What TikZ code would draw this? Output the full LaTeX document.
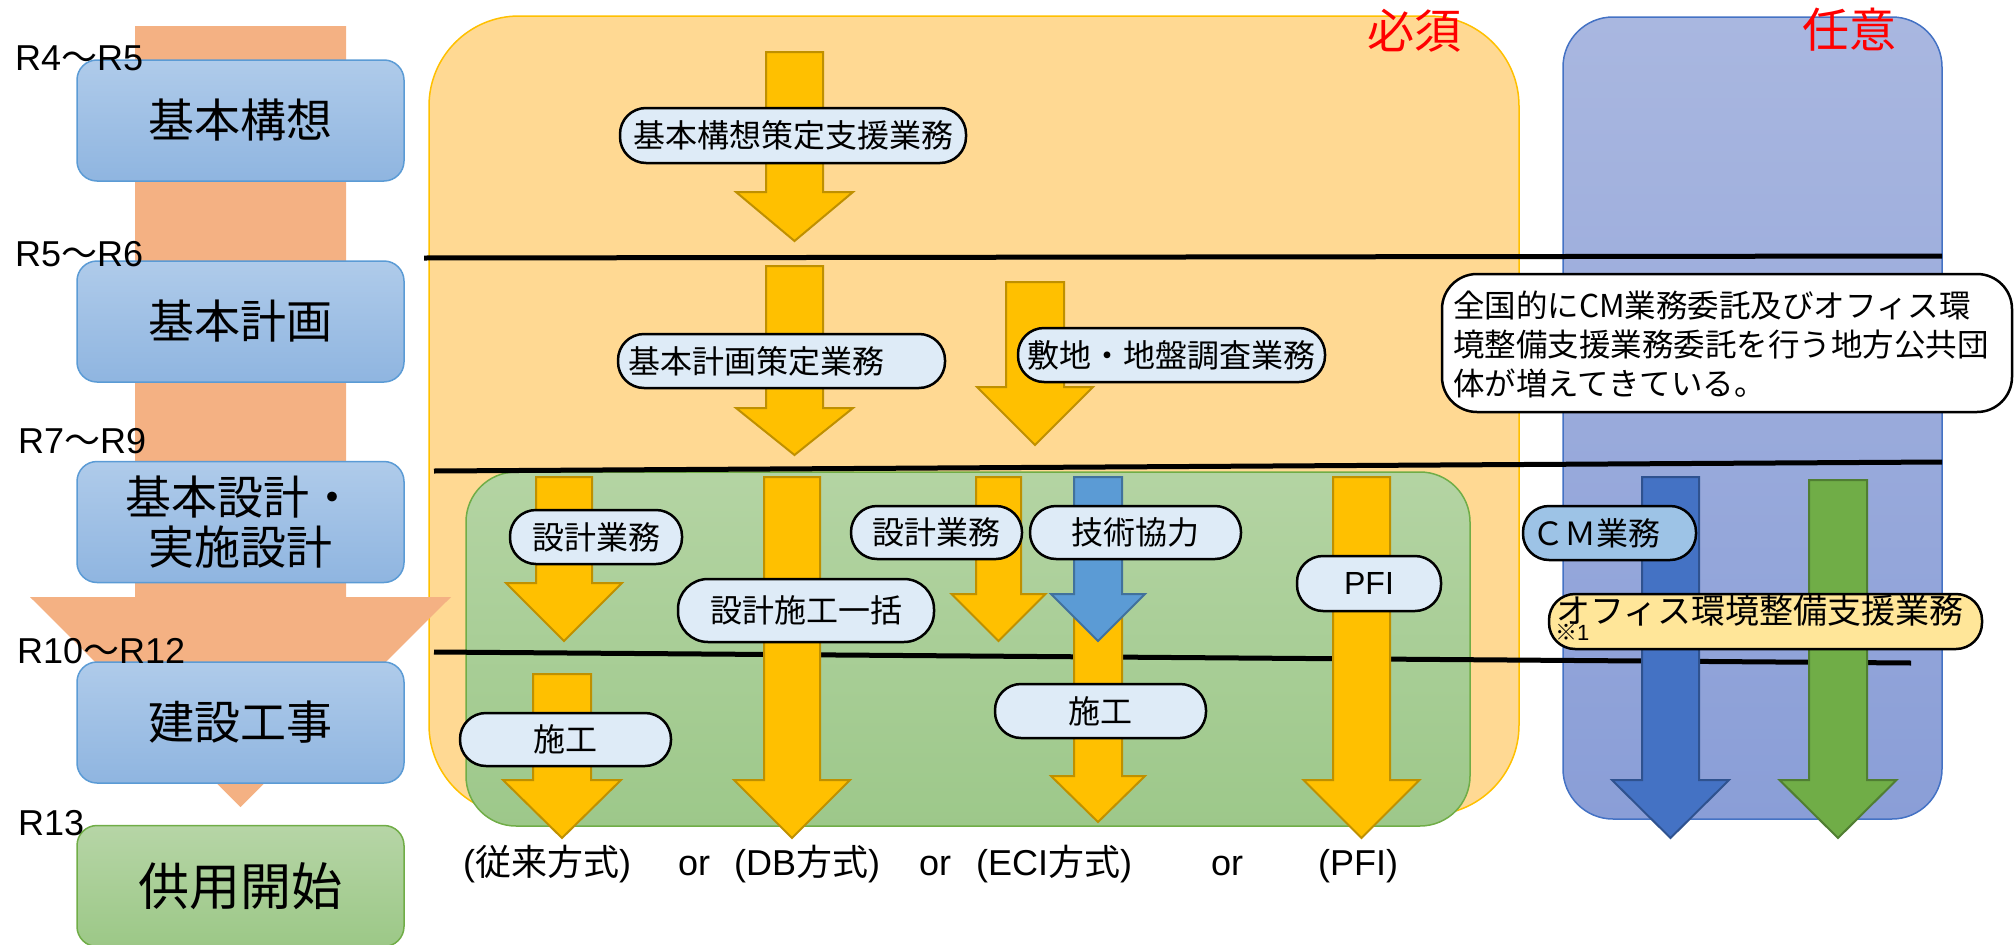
\documentclass[tikz,border=0pt]{standalone}
\usepackage{fontspec}
\setmainfont{Liberation Sans}
\newfontfamily\cjk{Noto Sans CJK JP}
\definecolor{leftorange}{HTML}{F4B183}
\definecolor{boxtop}{HTML}{AFCBEA}
\definecolor{boxbot}{HTML}{8FB5E0}
\definecolor{boxline}{HTML}{5B9BD5}
\definecolor{gboxtop}{HTML}{B6D5A6}
\definecolor{gboxbot}{HTML}{9CC887}
\definecolor{gline}{HTML}{70AD47}
\definecolor{orangebg}{HTML}{FFD993}
\definecolor{orangeline}{HTML}{FFC000}
\definecolor{greentop}{HTML}{B4D4A3}
\definecolor{greenbot}{HTML}{9DC88A}
\definecolor{bluetop}{HTML}{A9B7E0}
\definecolor{bluebot}{HTML}{8A9ED7}
\definecolor{blueline}{HTML}{4472C4}
\definecolor{pillfill}{HTML}{DEEBF7}
\definecolor{gold}{HTML}{FFC000}
\definecolor{goldline}{HTML}{BF9000}
\definecolor{lblue}{HTML}{5B9BD5}
\definecolor{lblueline}{HTML}{41719C}
\definecolor{cmblue}{HTML}{4472C4}
\definecolor{cmline}{HTML}{2F528F}
\definecolor{garrow}{HTML}{70AD47}
\definecolor{garrowline}{HTML}{507E32}
\definecolor{cmpill}{HTML}{9DC3E6}
\definecolor{officepill}{HTML}{FFE699}
\newcommand{\blockarrow}[7]{%
  \draw[#1] ({#2-#3},#4) -- ({#2+#3},#4) -- ({#2+#3},#5) -- ({#2+#6},#5)
    -- (#2,#7) -- ({#2-#6},#5) -- ({#2-#3},#5) -- cycle;}
\begin{document}
\begin{tikzpicture}[x=1pt,y=-1pt,
  phasebox/.style={draw=boxline, line width=1.5pt, top color=boxtop, bottom color=boxbot,
    rounded corners=20pt, minimum width=327pt, minimum height=121pt, inner sep=0pt,
    font=\cjk\fontsize{46}{50}\selectfont, align=center},
  startbox/.style={phasebox, draw=gline, top color=gboxtop, bottom color=gboxbot,
    font=\cjk\fontsize{51}{55}\selectfont},
  yearlabel/.style={anchor=base west, inner sep=0pt, font=\fontsize{36}{40}\selectfont},
  pill/.style={draw=black, line width=2.5pt, fill=pillfill, rounded corners=26pt,
    inner sep=0pt, font=\cjk\fontsize{32}{38}\selectfont},
  goldarrow/.style={fill=gold, draw=goldline, line width=2pt},
  sepline/.style={line width=5pt, black},
  methodlabel/.style={anchor=base west, inner sep=0pt, font=\fontsize{36}{40}\selectfont},
  redlabel/.style={text=red, inner sep=0pt, font=\cjk\fontsize{47}{50}\selectfont}
]
\useasboundingbox (0,0) rectangle (2014,945);
% backgrounds
\path[draw=orangeline, line width=1.5pt, fill=orangebg, rounded corners=90pt] (429,16) rectangle (1519,815);
\path[draw=gline, line width=1.5pt, top color=greentop, bottom color=greenbot, rounded corners=50pt] (466,472) rectangle (1470,826);
\path[draw=blueline, line width=1.5pt, top color=bluetop, bottom color=bluebot, rounded corners=50pt] (1563,17) rectangle (1942,819);
\node[redlabel] (must) at (1414,31) {必須};
\node[redlabel] (opt) at (1849,30) {任意};
% left big arrow
\fill[leftorange] (135,26) -- (346,26) -- (346,597) -- (451,597) -- (240.5,807)
  -- (30,597) -- (135,597) -- cycle;
% left phase boxes
\node[phasebox] (p1) at (240.5,120.5) {基本構想};
\node[phasebox] (p2) at (240.5,321.5) {基本計画};
\node[phasebox] (p3) at (240.5,522) {基本設計・\\実施設計};
\node[phasebox] (p4) at (240.5,722.5) {建設工事};
\node[startbox] (p5) at (240.5,886) {供用開始};
% year labels
\node[yearlabel] (y1) at (15,70) {R4{\cjk 〜}R5};
\node[yearlabel] (y2) at (15,266) {R5{\cjk 〜}R6};
\node[yearlabel] (y3) at (18,453) {R7{\cjk 〜}R9};
\node[yearlabel] (y4) at (17,663) {R10{\cjk 〜}R12};
\node[yearlabel] (y5) at (18,835) {R13};
% separator lines
\coordinate (l1a) at (424,258); \coordinate (l1b) at (1942,256);
\coordinate (l2a) at (434,471); \coordinate (l2b) at (1942,462);
\coordinate (l3a) at (434,652); \coordinate (l3b) at (1911,663);
\draw[sepline] (l1a) -- (l1b);
\draw[sepline] (l2a) -- (l2b);
\draw[sepline] (l3a) -- (l3b);
% arrows
\blockarrow{goldarrow}{794.5}{28.5}{52}{192}{58.5}{241}
\blockarrow{goldarrow}{794.5}{28.5}{266}{408}{58.5}{455}
\blockarrow{goldarrow}{1035}{29}{282}{387}{58}{445}
\blockarrow{goldarrow}{564}{28}{477}{583}{58}{641}
\blockarrow{goldarrow}{562}{29}{674}{780}{59}{838}
\blockarrow{goldarrow}{792}{28}{477}{780}{58}{838}
\blockarrow{goldarrow}{998.5}{22.5}{477}{594}{47}{641}
\blockarrow{goldarrow}{1098}{24}{594}{776}{47}{822}
\blockarrow{fill=lblue, draw=lblueline, line width=2pt}{1098}{24}{477}{594}{47}{641}
\blockarrow{goldarrow}{1361.5}{28.5}{477}{780}{58}{838}
\blockarrow{fill=cmblue, draw=cmline, line width=2pt}{1670.5}{28.5}{477}{780}{58.5}{838}
\blockarrow{fill=garrow, draw=garrowline, line width=2pt}{1838}{29}{480}{780}{58.5}{838}
% labels
\node[pill, minimum width=346pt, minimum height=55pt] (k1) at (793,135.5) {基本構想策定支援業務};
\node[pill, minimum width=327pt, minimum height=54pt, text width=307pt, align=left] (k2) at (781.5,361) {基本計画策定業務};
\node[pill, minimum width=307pt, minimum height=54pt] (k3) at (1171.5,355) {敷地・地盤調査業務};
\node[pill, minimum width=172pt, minimum height=54pt] (d1) at (596,537) {設計業務};
\node[pill, minimum width=211pt, minimum height=53pt] (c1) at (565.5,739.5) {施工};
\node[pill, minimum width=256pt, minimum height=63pt, rounded corners=30pt] (db) at (806,610.5) {設計施工一括};
\node[pill, minimum width=171pt, minimum height=53pt] (d2) at (936.5,532.5) {設計業務};
\node[pill, minimum width=211pt, minimum height=53pt] (tk) at (1135.5,532.5) {技術協力};
\node[pill, minimum width=211pt, minimum height=54pt] (c2) at (1100.5,711) {施工};
\node[pill, minimum width=144pt, minimum height=55pt, font=\fontsize{32}{38}\selectfont] (pfi) at (1369,583.5) {PFI};
\node[pill, fill=cmpill, minimum width=173pt, minimum height=54pt, text width=155pt, align=left] (cm) at (1609.5,533) {ＣＭ業務};
\node[pill, fill=officepill, minimum width=433pt, minimum height=55pt] (of) at (1765.5,621.5) {};
\node[anchor=west, inner sep=0pt, font=\cjk\fontsize{34}{38}\selectfont] (oftext) at (1556,611) {オフィス環境整備支援業務};
\node[anchor=base west, inner sep=0pt, font=\fontsize{22}{24}\selectfont] (note) at (1555,640) {{\cjk ※}1};
% callout
\node[draw=black, line width=2.5pt, fill=white, rounded corners=35pt, minimum width=570pt, minimum height=138pt] (call) at (1727,343) {};
\node[anchor=north west, align=left, inner sep=0pt, font=\cjk\fontsize{31.5}{39}\selectfont] (calltext) at (1453,291)
  {全国的にCM業務委託及びオフィス環\\境整備支援業務委託を行う地方公共団\\体が増えてきている。};
% method labels
\node[methodlabel] (m1) at (463,875) {({\cjk 従来方式})};
\node[methodlabel] (or1) at (678,875) {or};
\node[methodlabel] (m2) at (734,875) {(DB{\cjk 方式})};
\node[methodlabel] (or2) at (919,875) {or};
\node[methodlabel] (m3) at (976,875) {(ECI{\cjk 方式})};
\node[methodlabel] (or3) at (1211,875) {or};
\node[methodlabel] (m4) at (1318,875) {(PFI)};
\end{tikzpicture}
\end{document}
